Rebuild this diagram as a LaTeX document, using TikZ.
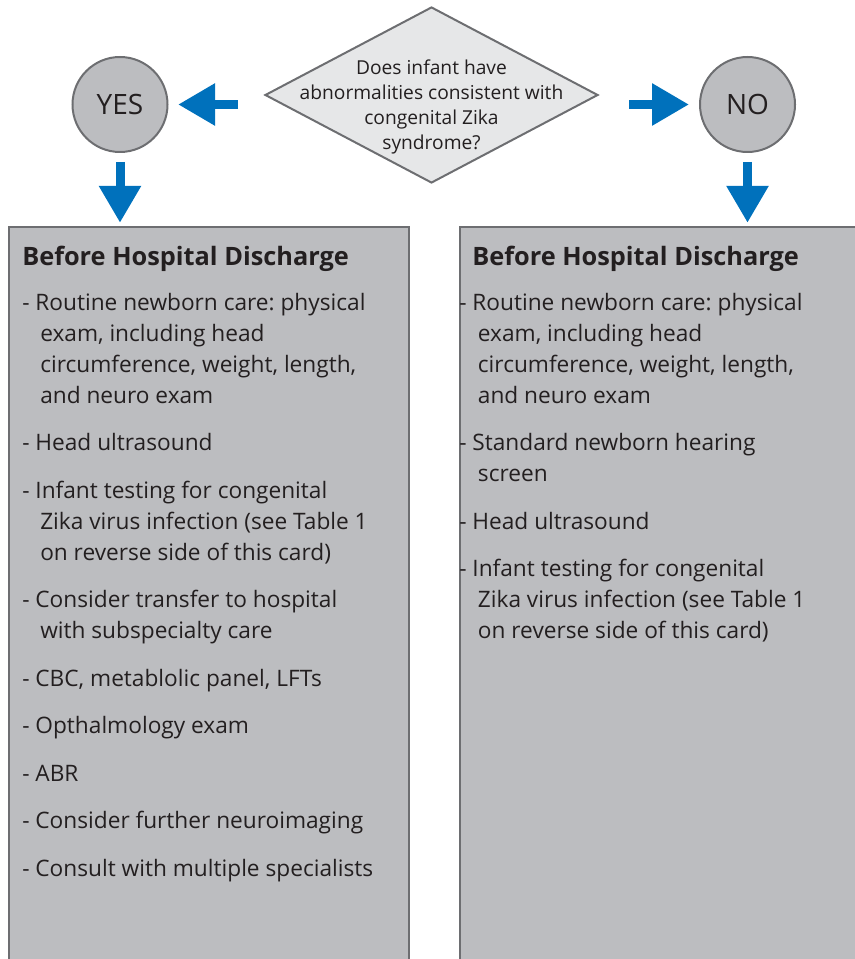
\documentclass[tikz,border=0pt]{standalone}
\usepackage{fontspec}
\setmainfont{Open Sans}
\frenchspacing
\usepackage{tikz}
\usetikzlibrary{shapes.geometric, arrows.meta, positioning, calc}
\definecolor{zikablue}{RGB}{0,113,188}
\definecolor{boxgray}{RGB}{188,189,192}
\definecolor{edgegray}{RGB}{109,110,113}
\definecolor{qgray}{RGB}{230,231,232}
\definecolor{inkblack}{RGB}{35,31,32}

\begin{document}
\begin{tikzpicture}[
  x=0.75pt, y=-0.75pt,
  every node/.style={text=inkblack},
  decision/.style={diamond, draw=edgegray, fill=qgray, line width=1.5pt,
              minimum width=249.75pt, minimum height=132pt, inner sep=0pt},
  answer/.style={circle, draw=edgegray, fill=boxgray, line width=1.5pt,
              minimum size=71.25pt, inner sep=0pt, font=\fontsize{21}{25}\selectfont},
  panel/.style={rectangle, draw=edgegray, fill=boxgray, line width=1.5pt,
              anchor=north west, inner sep=0pt},
  qtext/.style={align=center, inner sep=0pt, font=\fontsize{14.4}{18.6}\selectfont},
  heading/.style={anchor=base west, inner sep=0pt, font=\fontsize{19}{23}\selectfont\bfseries},
  items/.style={anchor=north west, align=left, inner sep=0pt, font=\fontsize{17}{23.25}\selectfont},
  arr/.style={-{Triangle[length=27.75pt, width=30pt]}, line width=6.75pt, zikablue},
]
\useasboundingbox (0,0) rectangle (855,959);
\clip (0,0) rectangle (855,959);

\node[decision] (q) at (431.5,95) {};
\node[qtext] (qlabel) at ([yshift=-9pt]q.center) {Does infant have\\abnormalities consistent with\\congenital Zika\\syndrome?};

\node[answer] (yes) at (120,104.5) {YES};
\node[answer] (no) at (747.5,104.5) {NO};

\node[panel, minimum width=300pt, minimum height=580pt] (lbox) at (8,226) {};
\node[panel, minimum width=320pt, minimum height=580pt] (rbox) at (459,226) {};

\node[heading] (ltitle) at ([xshift=10.5pt, yshift=-29.25pt]lbox.north west) {Before Hospital Discharge};
\node[heading] (rtitle) at ([xshift=9.75pt, yshift=-29.25pt]rbox.north west) {Before Hospital Discharge};

\node[items] (llist) at ([xshift=10.5pt, yshift=-50pt]lbox.north west) {%
- Routine newborn care: physical\\
\hspace*{13.5pt}exam, including head\\
\hspace*{13.5pt}circumference, weight, length,\\
\hspace*{13.5pt}and neuro exam\\[12.4pt]
- Head ultrasound\\[12.4pt]
- Infant testing for congenital\\
\hspace*{13.5pt}Zika virus infection (see Table 1\\
\hspace*{13.5pt}on reverse side of this card)\\[12.4pt]
- Consider transfer to hospital\\
\hspace*{13.5pt}with subspecialty care\\[12.4pt]
- CBC, metablolic panel, LFTs\\[12.4pt]
- Opthalmology exam\\[12.4pt]
- ABR\\[12.4pt]
- Consider further neuroimaging\\[12.4pt]
- Consult with multiple specialists};

\node[items] (rlist) at ([yshift=-50pt]rbox.north west) {%
- Routine newborn care: physical\\
\hspace*{14pt}exam, including head\\
\hspace*{14pt}circumference, weight, length,\\
\hspace*{14pt}and neuro exam\\[12.4pt]
- Standard newborn hearing\\
\hspace*{14pt}screen\\[12.4pt]
- Head ultrasound\\[12.4pt]
- Infant testing for congenital\\
\hspace*{14pt}Zika virus infection (see Table 1\\
\hspace*{14pt}on reverse side of this card)};

\draw[arr, shorten <=19.5pt, shorten >=7.2pt] (q.west |- yes) -- (yes);
\draw[arr, shorten <=22.5pt, shorten >=7.5pt] (q.east |- no) -- (no);
\draw[arr, shorten <=6.75pt, shorten >=2.4pt] (yes) -- (yes |- lbox.north);
\draw[arr, shorten <=6.75pt, shorten >=2.4pt] (no) -- (no |- rbox.north);

\end{tikzpicture}
\end{document}
